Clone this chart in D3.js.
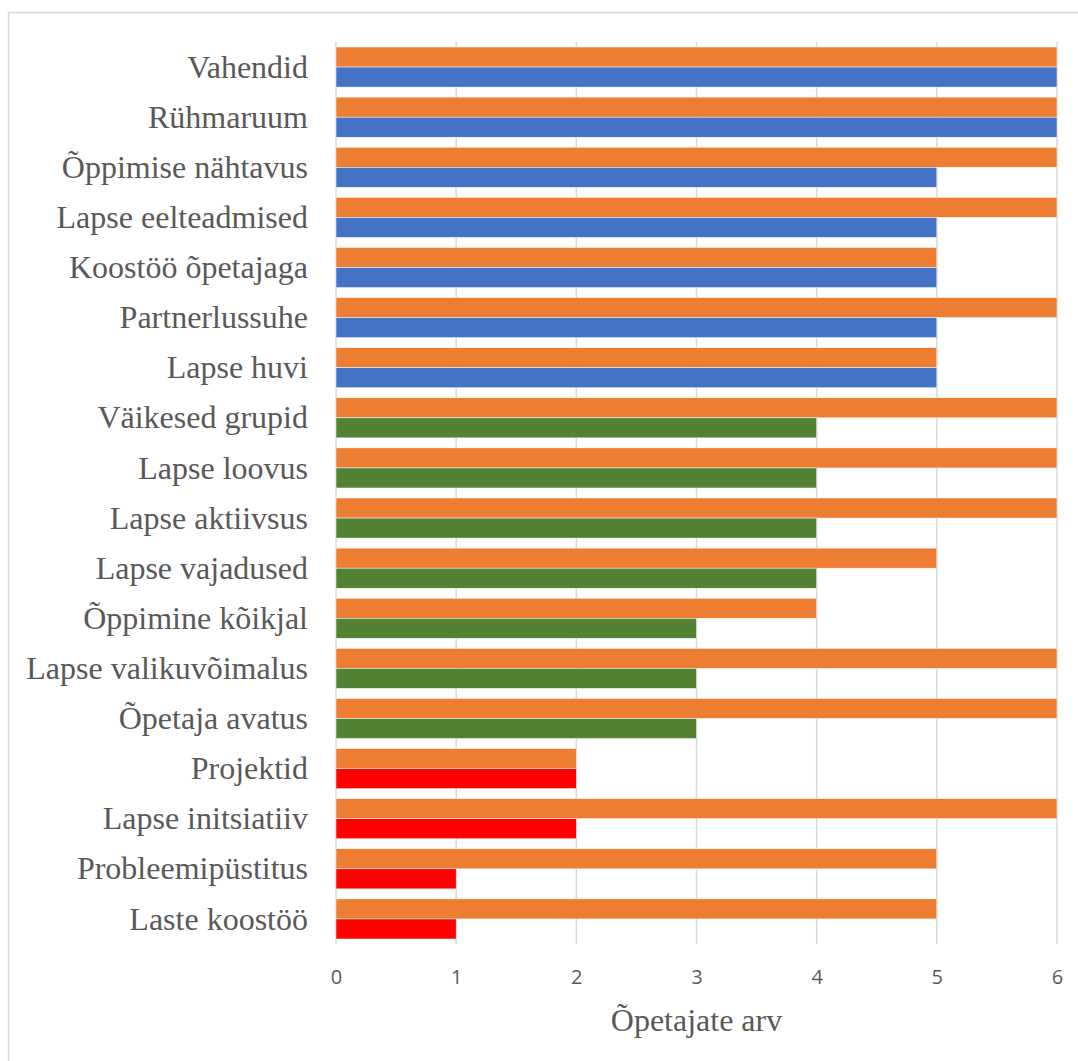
<!DOCTYPE html>
<html><head><meta charset="utf-8">
<script src="https://cdn.jsdelivr.net/npm/d3@7"></script>
<style>body{margin:0;background:#fff;}svg{display:block;}</style>
</head><body>
<script>
const categories = ["Vahendid","Rühmaruum","Õppimise nähtavus","Lapse eelteadmised","Koostöö õpetajaga","Partnerlussuhe","Lapse huvi","Väikesed grupid","Lapse loovus","Lapse aktiivsus","Lapse vajadused","Õppimine kõikjal","Lapse valikuvõimalus","Õpetaja avatus","Projektid","Lapse initsiatiiv","Probleemipüstitus","Laste koostöö"];
const orangeValues = [6,6,6,6,5,6,5,6,6,6,5,4,6,6,2,6,5,5];
const secondValues = [6,6,5,5,5,5,5,4,4,4,4,3,3,3,2,2,1,1];
const secondGroup = ["blue","blue","blue","blue","blue","blue","blue","green","green","green","green","green","green","green","red","red","red","red"];
const xTicks = [0,1,2,3,4,5,6];
const xTitle = "Õpetajate arv";

(function(){
const colors = {orange:"#ED7D31", blue:"#4472C4", green:"#548235", red:"#FF0000"};
const W = 1078, H = 1061;
const svg = d3.select("body").append("svg").attr("width", W).attr("height", H);

svg.append("rect").attr("x",8.5).attr("y",12.5).attr("width",W+20).attr("height",H+20)
  .attr("fill","none").attr("stroke","#d9d9d9").attr("stroke-width",1.5);

const pL = 336, pR = 1057, pT = 42, pB = 944;
const x = d3.scaleLinear().domain([0,6]).range([pL,pR]);
const y = d3.scaleBand().domain(categories).range([pT,pB]).paddingInner(0.2).paddingOuter(0.1);
const sub = d3.scaleBand().domain(["o","s"]).range([0,y.bandwidth()]);

svg.append("g").selectAll("line").data(xTicks).join("line")
  .attr("x1",d=>x(d)).attr("x2",d=>x(d)).attr("y1",pT).attr("y2",pB)
  .attr("stroke","#d9d9d9").attr("stroke-width",1.5);

const g = svg.append("g");
categories.forEach((c,i)=>{
  g.append("rect").attr("x",x(0)).attr("y",y(c)+sub("o"))
    .attr("width",x(orangeValues[i])-x(0)).attr("height",sub.bandwidth())
    .attr("fill",colors.orange).attr("stroke","#fff").attr("stroke-width",0.5);
  g.append("rect").attr("x",x(0)).attr("y",y(c)+sub("s"))
    .attr("width",x(secondValues[i])-x(0)).attr("height",sub.bandwidth())
    .attr("fill",colors[secondGroup[i]]).attr("stroke","#fff").attr("stroke-width",0.5);
});

svg.append("g").selectAll("text").data(categories).join("text")
  .attr("x",308).attr("y",d=>y(d)+y.bandwidth()/2)
  .attr("dy","0.33em").attr("text-anchor","end")
  .attr("font-family","'Liberation Serif','Times New Roman',serif").attr("font-size",32)
  .attr("fill","#595959").text(d=>d);

const xAxis = d3.axisBottom(x).tickValues(xTicks).tickFormat(d3.format("d")).tickSize(0).tickPadding(0);
const ax = svg.append("g").attr("transform",`translate(0,${pB})`).call(xAxis);
ax.select(".domain").remove();
ax.selectAll("text").attr("y",40).attr("dy",0).attr("font-family","'Open Sans','Liberation Sans',sans-serif")
  .attr("font-size",20).attr("fill","#595959");

svg.append("text").attr("x",(pL+pR)/2).attr("y",1031).attr("text-anchor","middle")
  .attr("font-family","'Liberation Serif','Times New Roman',serif").attr("font-size",32)
  .attr("fill","#595959").text(xTitle);
})();
</script>
</body></html>
